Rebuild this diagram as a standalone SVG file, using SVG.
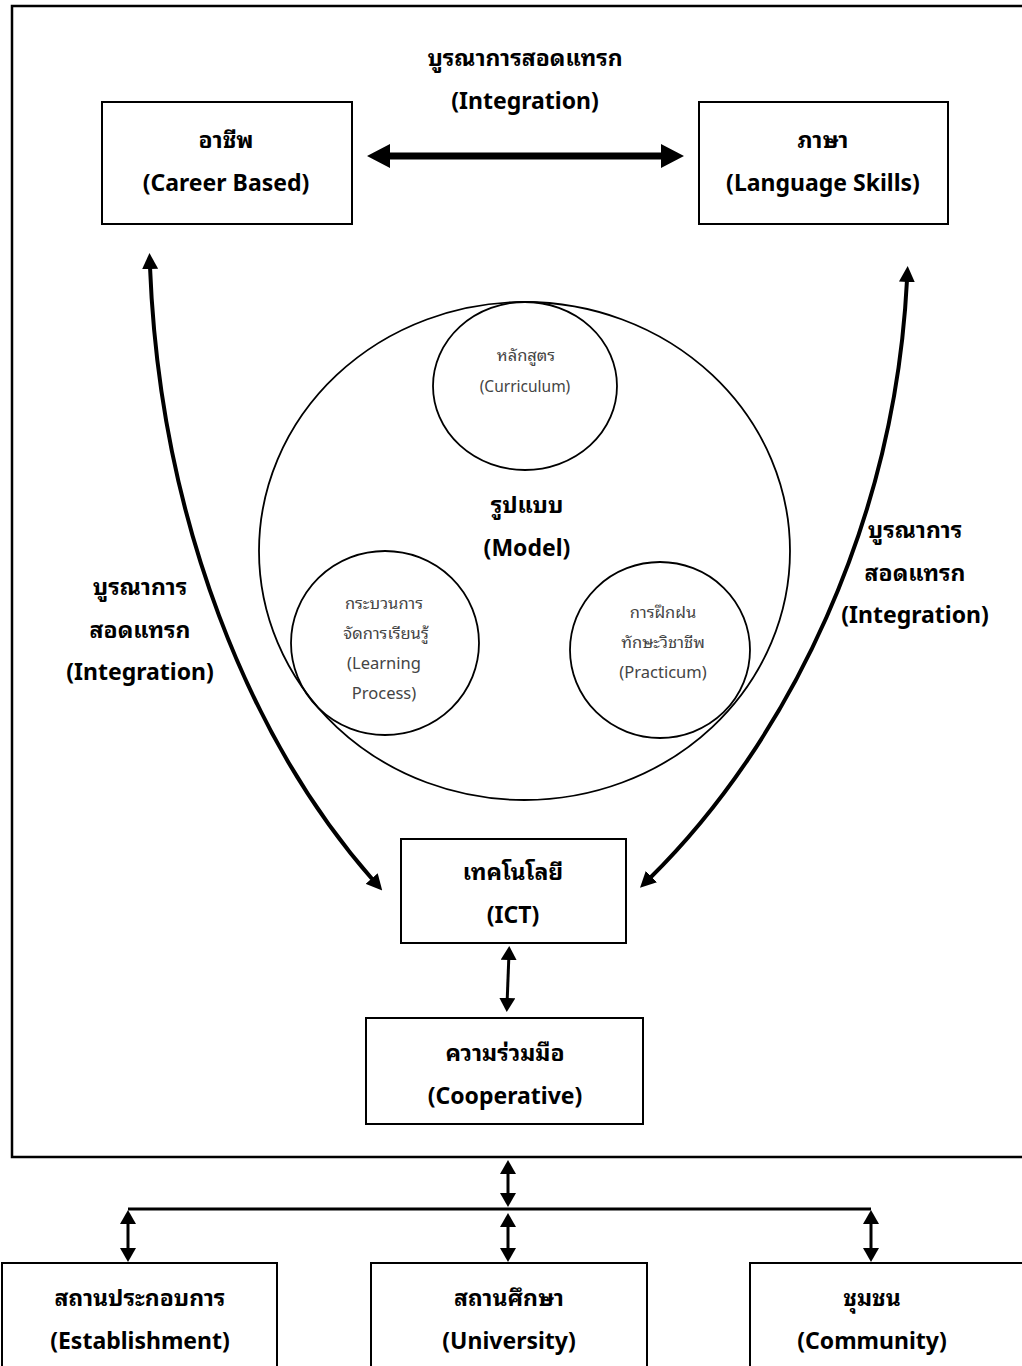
<svg xmlns="http://www.w3.org/2000/svg" width="1022" height="1366" viewBox="0 0 1022 1366">
<defs>
<style>
.box{fill:#fff;stroke:#000;stroke-width:2}
.ring{fill:none;stroke:#000;stroke-width:1.8}
.b{font-family:"Noto Sans","Noto Sans Thai Looped","Sarabun","Noto Serif Thai","Garuda","Loma","Noto Sans Thai",sans-serif;font-weight:bold;font-size:23px;fill:#000;text-anchor:middle}
.s{font-family:"Noto Sans","Noto Sans Thai Looped","Sarabun","Noto Serif Thai","Garuda","Loma","Noto Sans Thai",sans-serif;font-size:16.5px;fill:#444;text-anchor:middle}
.xs{font-size:15.5px}
.c{fill:none;stroke:#000;stroke-width:4}
.t{fill:none;stroke:#000;stroke-width:3}
</style>
<marker id="hc" viewBox="0 0 16 16" refX="2" refY="8" markerWidth="16" markerHeight="16" markerUnits="userSpaceOnUse" orient="auto-start-reverse">
<path d="M0,0 L16,8 L0,16 z" fill="#000"/>
</marker>
<marker id="hs" viewBox="0 0 14 16" refX="2" refY="8" markerWidth="14" markerHeight="16" markerUnits="userSpaceOnUse" orient="auto-start-reverse">
<path d="M0,0 L14,8 L0,16 z" fill="#000"/>
</marker>
</defs>
<rect width="1022" height="1366" fill="#fff"/>
<path d="M1030,6 H12 V1157 H1030" fill="none" stroke="#000" stroke-width="2.5"/>

<g id="connectors">
<path d="M367,156 L390,144 L390,152.5 L661,152.5 L661,144 L684,156 L661,168 L661,159.5 L390,159.5 L390,168 z" fill="#000"/>
<path class="c" d="M150,267 C160,520 250,740 373,880" marker-start="url(#hc)" marker-end="url(#hc)"/>
<path class="c" d="M907,280 C895,520 790,740 650,878" marker-start="url(#hc)" marker-end="url(#hc)"/>
<path class="t" d="M508.8,958 L507.2,1000" marker-start="url(#hs)" marker-end="url(#hs)"/>
<path class="t" d="M508,1172 L508,1195" marker-start="url(#hs)" marker-end="url(#hs)"/>
<path d="M128,1209 H871" stroke="#000" stroke-width="3"/>
<path class="t" d="M128,1222 L128,1250" marker-start="url(#hs)" marker-end="url(#hs)"/>
<path class="t" d="M508,1225 L508,1250" marker-start="url(#hs)" marker-end="url(#hs)"/>
<path class="t" d="M871,1222 L871,1250" marker-start="url(#hs)" marker-end="url(#hs)"/>
</g>

<g id="label-top">
<text class="b" x="525" y="66">บูรณาการสอดแทรก</text>
<text class="b" x="525" y="109">(Integration)</text>
</g>
<g id="label-left">
<text class="b" x="140" y="595">บูรณาการ</text>
<text class="b" x="140" y="638">สอดแทรก</text>
<text class="b" x="140" y="680">(Integration)</text>
</g>
<g id="label-right">
<text class="b" x="915" y="538">บูรณาการ</text>
<text class="b" x="915" y="581">สอดแทรก</text>
<text class="b" x="915" y="623">(Integration)</text>
</g>

<g id="career">
<rect class="box" x="102" y="102" width="250" height="122"/>
<text class="b" x="226" y="148">อาชีพ</text>
<text class="b" x="226" y="191">(Career Based)</text>
</g>
<g id="language">
<rect class="box" x="699" y="102" width="249" height="122"/>
<text class="b" x="823" y="148">ภาษา</text>
<text class="b" x="823" y="191">(Language Skills)</text>
</g>

<g id="model">
<ellipse class="ring" cx="524.5" cy="551" rx="265.5" ry="249"/>
<text class="b" x="527" y="513">รูปแบบ</text>
<text class="b" x="527" y="556">(Model)</text>
</g>
<g id="curriculum">
<ellipse class="ring" cx="525" cy="386" rx="92" ry="84"/>
<text class="s" x="526" y="361">หลักสูตร</text>
<text class="s xs" x="525" y="392">(Curriculum)</text>
</g>
<g id="learning">
<ellipse class="ring" cx="385" cy="643" rx="94" ry="92"/>
<text class="s" x="384" y="609">กระบวนการ</text>
<text class="s" x="386" y="639">จัดการเรียนรู้</text>
<text class="s" x="384" y="669">(Learning</text>
<text class="s" x="384" y="699">Process)</text>
</g>
<g id="practicum">
<ellipse class="ring" cx="660" cy="650" rx="90" ry="88"/>
<text class="s" x="663" y="618">การฝึกฝน</text>
<text class="s" x="663" y="648">ทักษะวิชาชีพ</text>
<text class="s" x="663" y="678">(Practicum)</text>
</g>

<g id="ict">
<rect class="box" x="401" y="839" width="225" height="104"/>
<text class="b" x="513" y="880">เทคโนโลยี</text>
<text class="b" x="513" y="923">(ICT)</text>
</g>
<g id="cooperative">
<rect class="box" x="366" y="1018" width="277" height="106"/>
<text class="b" x="505" y="1061">ความร่วมมือ</text>
<text class="b" x="505" y="1104">(Cooperative)</text>
</g>

<g id="establishment">
<rect class="box" x="2" y="1263" width="275" height="120"/>
<text class="b" x="140" y="1306">สถานประกอบการ</text>
<text class="b" x="140" y="1349">(Establishment)</text>
</g>
<g id="university">
<rect class="box" x="371" y="1263" width="276" height="120"/>
<text class="b" x="509" y="1306">สถานศึกษา</text>
<text class="b" x="509" y="1349">(University)</text>
</g>
<g id="community">
<rect class="box" x="750" y="1263" width="290" height="120"/>
<text class="b" x="872" y="1306">ชุมชน</text>
<text class="b" x="872" y="1349">(Community)</text>
</g>
</svg>
